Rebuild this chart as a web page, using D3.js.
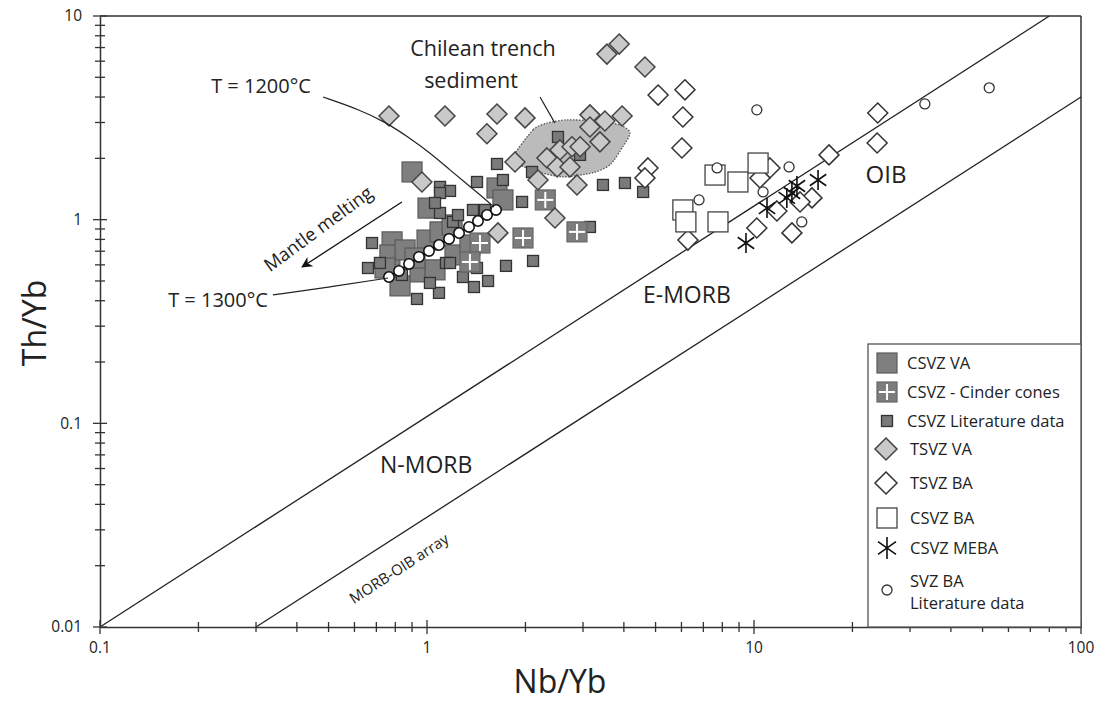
<!DOCTYPE html>
<html><head><meta charset="utf-8">
<script src="https://cdn.jsdelivr.net/npm/d3@7"></script>
<style>
body{margin:0;background:#fff;}
text{font-family:"Open Sans",sans-serif;fill:#222;}
</style>
</head><body>
<svg id="c" width="1106" height="713"></svg>
<script>
// ---------- DATA (Nb/Yb, Th/Yb) ----------
const xTicks = [0.1, 1, 10, 100];
const xTickLabels = ["0.1", "1", "10", "100"];
const yTicks = [0.01, 0.1, 1, 10];
const yTickLabels = ["0.01", "0.1", "1", "10"];

const csvzVA = [[0.900,1.715],[1.007,1.14],[0.782,0.778],[0.770,0.671],[0.857,0.710],[1.0,0.794],[1.096,0.871],[0.952,0.554],[1.058,0.567],[0.827,0.473],[0.744,0.579],[1.218,0.671],[1.353,0.751],[1.637,1.431],[1.707,1.25],[1.193,0.942],[0.919,0.648]];
const csvzCinder = [[2.30,1.25],[1.966,0.813],[2.875,0.871],[1.452,0.768],[1.353,0.620]];
const csvzLit = [[0.679,0.768],[0.660,0.579],[0.718,0.613],[0.932,0.408],[1.088,0.437],[1.392,0.467],[1.537,0.500],[1.744,0.593],[2.11,0.627],[1.953,1.222],[1.637,1.877],[1.707,1.566],[1.422,1.531],[1.096,1.448],[1.176,1.384],[1.382,1.116],[1.504,1.116],[3.452,1.481],[4.03,1.514],[4.58,1.368],[2.515,2.547],[2.937,2.08],[2.095,1.715],[3.15,0.921],[1.201,0.975],[1.244,1.054],[1.096,1.079],[1.143,0.613],[1.422,0.579],[1.288,0.523],[1.176,0.613],[1.096,1.352],[1.058,1.208],[0.838,0.535],[1.021,0.489]];
const tsvzVA = [[3.55,6.50],[3.87,7.28],[4.64,5.62],[0.765,3.23],[1.135,3.23],[1.637,3.30],[1.994,3.16],[1.525,2.64],[1.858,1.92],[0.965,1.531],[1.648,0.861],[2.462,1.02],[2.875,1.481],[2.185,1.566],[2.327,2.01],[2.55,2.20],[2.775,2.28],[2.50,1.815],[2.737,1.815],[3.15,3.27],[3.50,3.05],[3.95,3.23],[3.15,2.85],[3.38,2.41],[2.94,2.28]];
const tsvzBA = [[5.09,4.09],[6.15,4.34],[6.06,3.19],[6.02,2.25],[4.74,1.795],[4.64,1.603],[6.28,0.794],[10.2,0.910],[11.75,1.104],[13.06,0.861],[15.04,1.279],[13.83,1.222],[16.96,2.08],[23.8,2.38],[23.9,3.34],[11.19,1.795],[10.43,1.603]];
const csvzBA = [[7.60,1.656],[8.93,1.531],[10.29,1.897],[6.06,1.116],[6.19,0.975],[7.76,0.975]];
const csvzMEBA = [[9.45,0.768],[10.96,1.14],[13.06,1.352],[13.53,1.463],[15.7,1.566],[12.6,1.279]];
const svzLit = [[10.2,3.46],[7.71,1.795],[12.8,1.815],[10.66,1.368],[6.79,1.25],[14.0,0.975],[33.3,3.70],[52.4,4.44]];
const meltCurve = [[0.765,0.523],[0.821,0.560],[0.881,0.606],[0.945,0.656],[1.014,0.702],[1.088,0.751],[1.168,0.804],[1.253,0.860],[1.344,0.921],[1.432,0.985],[1.526,1.055],[1.626,1.116]];
const sedimentField = [[1.83,2.03],[2.11,2.76],[2.33,2.98],[2.68,3.09],[3.27,3.05],[3.89,2.92],[4.18,2.67],[3.97,2.28],[3.63,1.86],[3.22,1.70],[2.61,1.62],[2.17,1.72],[1.92,1.86]];
const upperLine = [[0.1,0.01],[80,10]];
const lowerLine = [[0.3,0.01],[100,4]];
const leader1200 = [[0.481,4.0],[0.624,3.46],[0.744,3.02],[0.875,2.55],[1.021,2.13],[1.176,1.754],[1.335,1.482],[1.504,1.264],[1.603,1.154]];
const leader1300 = [[0.338,0.427],[0.505,0.467],[0.760,0.517]];
const meltArrow = [[0.838,1.221],[0.415,0.586]];
const sedLeader = [[2.216,4.0],[2.462,2.98]];
const legendLabels = ["CSVZ VA","CSVZ - Cinder cones","CSVZ Literature data","TSVZ VA","TSVZ BA","CSVZ BA","CSVZ MEBA","SVZ BA"];

// ---------- CHART ----------
const svg = d3.select("#c");
svg.append("rect").attr("width",1106).attr("height",713).attr("fill","#fff");
const x = d3.scaleLog().domain([0.1,100]).range([100,1081]);
const y = d3.scaleLog().domain([0.01,10]).range([627,16]);
const AX = "#333";

const allX = [], allY = [];
[0.1,1,10].forEach(d=>{for(let k=1;k<10;k++) allX.push(+(d*k).toPrecision(3));}); allX.push(100);
[0.01,0.1,1].forEach(d=>{for(let k=1;k<10;k++) allY.push(+(d*k).toPrecision(3));}); allY.push(10);
const isMajX = v => xTicks.some(t=>Math.abs(t-v)<1e-9);
const isMajY = v => yTicks.some(t=>Math.abs(t-v)<1e-9);

const line = d3.line().x(d=>x(d[0])).y(d=>y(d[1]));
const curve = d3.line().x(d=>x(d[0])).y(d=>y(d[1])).curve(d3.curveBasis);

// frame
svg.append("line").attr("x1",x(0.1)).attr("x2",x(100)).attr("y1",y(10)).attr("y2",y(10)).attr("stroke",AX).attr("stroke-width",1.5);
svg.append("line").attr("x1",x(100)).attr("x2",x(100)).attr("y1",y(10)).attr("y2",y(0.01)).attr("stroke",AX).attr("stroke-width",1.5);

// diagonal reference lines
svg.append("path").attr("d",line(upperLine)).attr("fill","none").attr("stroke","#222").attr("stroke-width",1.3);
svg.append("path").attr("d",line(lowerLine)).attr("fill","none").attr("stroke","#222").attr("stroke-width",1.3);

// axes
function xAxis(){
  const g = svg.append("g").attr("transform",`translate(0,${y(0.01)})`);
  g.call(d3.axisBottom(x).tickValues(allX).tickSizeOuter(0).tickSize(0).tickFormat(""));
  g.selectAll("path.domain").attr("stroke",AX).attr("stroke-width",1.5);
  allX.forEach(v=>{
    const L = isMajX(v)?7:5;
    g.append("line").attr("x1",x(v)).attr("x2",x(v)).attr("y1",-L).attr("y2",L).attr("stroke",AX).attr("stroke-width",1.3);
  });
  xTicks.forEach((v,i)=>g.append("text").attr("x",x(v)).attr("y",26).attr("text-anchor","middle").attr("font-size",15.5).text(xTickLabels[i]));
}
function yAxis(){
  const g = svg.append("g").attr("transform",`translate(${x(0.1)},0)`);
  g.call(d3.axisLeft(y).tickValues(allY).tickSizeOuter(0).tickSize(0).tickFormat(""));
  g.selectAll("path.domain").attr("stroke",AX).attr("stroke-width",1.5);
  allY.forEach(v=>{
    const L = isMajY(v)?7:5;
    g.append("line").attr("x1",-L).attr("x2",L).attr("y1",y(v)).attr("y2",y(v)).attr("stroke",AX).attr("stroke-width",1.3);
  });
  yTicks.forEach((v,i)=>g.append("text").attr("x",-18).attr("y",y(v)).attr("dy","0.35em").attr("text-anchor","end").attr("font-size",15.5).text(yTickLabels[i]));
}
xAxis(); yAxis();

// axis titles
svg.append("text").attr("x",560).attr("y",693).attr("text-anchor","middle").attr("font-size",32).text("Nb/Yb");
svg.append("text").attr("transform","translate(46,323) rotate(-90)").attr("text-anchor","middle").attr("font-size",32).text("Th/Yb");

// sediment field
svg.append("path").attr("d",d3.line().x(d=>x(d[0])).y(d=>y(d[1])).curve(d3.curveCardinalClosed.tension(0.3))(sedimentField))
  .attr("fill","#bbbbbb").attr("stroke","#555").attr("stroke-width",1.3).attr("stroke-dasharray","1.5,1.5");

// symbol helpers
function square(g, cx, cy, s, fill, stroke, sw){
  g.append("rect").attr("x",cx-s/2).attr("y",cy-s/2).attr("width",s).attr("height",s).attr("fill",fill).attr("stroke",stroke).attr("stroke-width",sw);
}
function cinder(g, cx, cy, s){
  square(g,cx,cy,s,"#7d7d7d","#666",1.2);
  g.append("line").attr("x1",cx-s/2+2).attr("x2",cx+s/2-2).attr("y1",cy).attr("y2",cy).attr("stroke","#fff").attr("stroke-width",2);
  g.append("line").attr("x1",cx).attr("x2",cx).attr("y1",cy-s/2+2).attr("y2",cy+s/2-2).attr("stroke","#fff").attr("stroke-width",2);
}
function diamond(g, cx, cy, r, fill, stroke){
  g.append("path").attr("d",`M${cx},${cy-r}L${cx+r},${cy}L${cx},${cy+r}L${cx-r},${cy}Z`).attr("fill",fill).attr("stroke",stroke).attr("stroke-width",1.5);
}
function asterisk(g, cx, cy, r){
  let d = `M${cx},${cy-r}L${cx},${cy+r}`;
  [35,145].forEach(a=>{const t=a*Math.PI/180;const dx=r*Math.cos(t),dy=r*Math.sin(t);d+=`M${cx-dx},${cy-dy}L${cx+dx},${cy+dy}`;});
  g.append("path").attr("d",d).attr("stroke","#111").attr("stroke-width",1.6).attr("fill","none");
}
function circle(g, cx, cy, r){
  g.append("circle").attr("cx",cx).attr("cy",cy).attr("r",r).attr("fill","#fff").attr("stroke","#333").attr("stroke-width",1.3);
}

const pts = svg.append("g");
csvzVA.forEach(d=>square(pts,x(d[0]),y(d[1]),20,"#7f7f7f","#5a5a5a",1.2));
csvzLit.forEach(d=>square(pts,x(d[0]),y(d[1]),11,"#7a7a7a","#333",1.3));
csvzCinder.forEach(d=>cinder(pts,x(d[0]),y(d[1]),20));
tsvzVA.forEach(d=>diamond(pts,x(d[0]),y(d[1]),10,"#c9c9c9","#444"));

// melting curve
svg.append("path").attr("d",line(meltCurve)).attr("fill","none").attr("stroke","#111").attr("stroke-width",2);
meltCurve.forEach(d=>svg.append("circle").attr("cx",x(d[0])).attr("cy",y(d[1])).attr("r",5.2).attr("fill","#fff").attr("stroke","#111").attr("stroke-width",1.6));

const pts2 = svg.append("g");
tsvzBA.forEach(d=>diamond(pts2,x(d[0]),y(d[1]),10,"#fff","#333"));
csvzBA.forEach(d=>square(pts2,x(d[0]),y(d[1]),20,"#fff","#444",1.3));
csvzMEBA.forEach(d=>asterisk(pts2,x(d[0]),y(d[1]),10));
svzLit.forEach(d=>circle(pts2,x(d[0]),y(d[1]),5));

// leader lines
svg.append("path").attr("d",curve(leader1200)).attr("fill","none").attr("stroke","#222").attr("stroke-width",1.2);
svg.append("path").attr("d",curve(leader1300)).attr("fill","none").attr("stroke","#222").attr("stroke-width",1.2);
svg.append("path").attr("d",line(sedLeader)).attr("fill","none").attr("stroke","#222").attr("stroke-width",1.2);

// arrow
svg.append("defs").append("marker").attr("id","ah").attr("viewBox","0 0 10 10").attr("refX",9).attr("refY",5)
  .attr("markerWidth",15).attr("markerHeight",11).attr("markerUnits","userSpaceOnUse").attr("orient","auto")
  .append("path").attr("d","M0,0L10,5L0,10L3,5Z").attr("fill","#111");
svg.append("path").attr("d",line(meltArrow)).attr("stroke","#111").attr("stroke-width",1.3).attr("fill","none").attr("marker-end","url(#ah)");

// annotations
svg.append("text").attr("x",261).attr("y",93).attr("text-anchor","middle").attr("font-size",20).text("T = 1200\u00B0C");
svg.append("text").attr("x",218).attr("y",307).attr("text-anchor","middle").attr("font-size",20).text("T = 1300\u00B0C");
svg.append("text").attr("transform","translate(322,234) rotate(-36.5)").attr("text-anchor","middle").attr("font-size",18.5).text("Mantle melting");
svg.append("text").attr("x",483).attr("y",56).attr("text-anchor","middle").attr("font-size",21.5).text("Chilean trench");
svg.append("text").attr("x",471).attr("y",88).attr("text-anchor","middle").attr("font-size",21.5).text("sediment");
svg.append("text").attr("x",380).attr("y",473).attr("font-size",23).text("N-MORB");
svg.append("text").attr("x",643).attr("y",303).attr("font-size",23).text("E-MORB");
svg.append("text").attr("x",886).attr("y",183).attr("text-anchor","middle").attr("font-size",24).text("OIB");
svg.append("text").attr("transform","translate(402,573) rotate(-33)").attr("text-anchor","middle").attr("font-size",15).text("MORB-OIB array");

// legend
const lg = svg.append("g");
lg.append("rect").attr("x",868).attr("y",344).attr("width",213).attr("height",283).attr("fill","#fff").attr("stroke","#555").attr("stroke-width",1.3);
const ly = [363,392,421,449,483,518,548,581];
square(lg,887,ly[0],20,"#7f7f7f","#5a5a5a",1.2);
cinder(lg,887,ly[1],20);
square(lg,887,ly[2],11,"#7a7a7a","#333",1.3);
diamond(lg,886,ly[3],11,"#c9c9c9","#444");
diamond(lg,886,ly[4],11,"#fff","#333");
square(lg,887,ly[5],20,"#fff","#444",1.3);
asterisk(lg,887,ly[6],11);
circle(lg,887,590,5);
legendLabels.forEach((t,i)=>lg.append("text").attr("x",i<3?907:910).attr("y",ly[i]).attr("dy","0.35em").attr("font-size",16.5).text(t));
lg.append("text").attr("x",910).attr("y",603).attr("dy","0.35em").attr("font-size",16.5).text("Literature data");
</script>
</body></html>
